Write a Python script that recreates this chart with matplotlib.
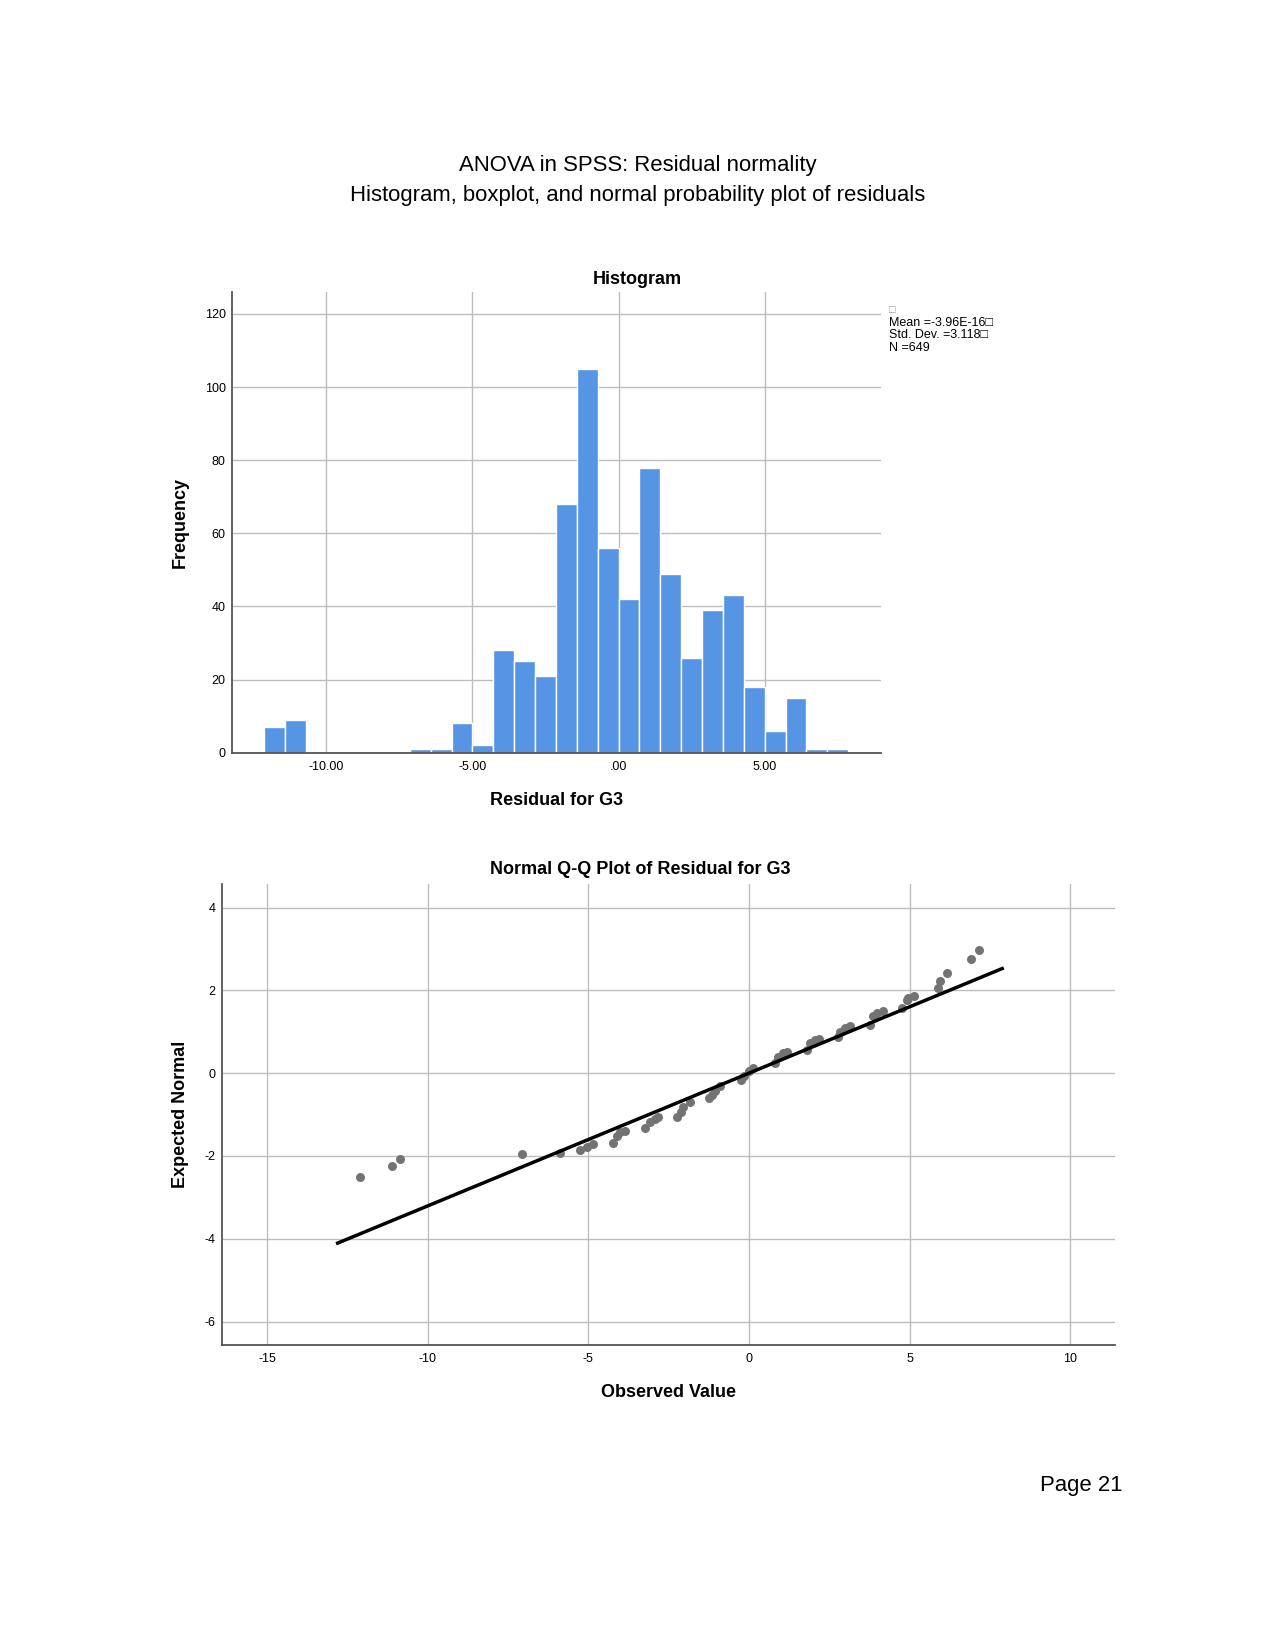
import numpy as np
import matplotlib
matplotlib.use("Agg")
import matplotlib.pyplot as plt

plt.rcParams['font.family'] = ['Liberation Sans', 'DejaVu Sans']
plt.rcParams['axes.unicode_minus'] = False

# ---------------- data ----------------
# Histogram: bin index k (left edge = k * 5/7), counts
bin_index = np.arange(-17, 11)
bin_width = 5.0 / 7.0
hist_counts = [7, 9, 0, 0, 0, 0, 0, 1, 1, 8, 2, 28, 25, 21, 68, 105, 56,
               42, 78, 49, 26, 39, 43, 18, 6, 15, 1, 1]
hist_xticks = [-10, -5, 0, 5]
hist_xticklabels = ["-10.00", "-5.00", ".00", "5.00"]
hist_yticks = [0, 20, 40, 60, 80, 100, 120]
stat_lines = ["Mean =-3.96E-16\u25a1", "Std. Dev. =3.118\u25a1", "N =649"]
std_dev = 3.118

# Q-Q plot points (observed value, expected normal)
qq_obs = [-12.11, -11.10, -10.85, -7.07, -5.88,
          -5.26, -5.05, -4.84,
          -4.22, -4.12, -4.01, -3.86,
          -3.24, -3.08, -2.93, -2.82,
          -2.25, -2.12, -2.04, -1.84,
          -1.24, -1.14, -1.06, -0.90,
          -0.25, -0.14, 0.01, 0.13,
          0.81, 0.91, 1.07, 1.17,
          1.80, 1.90, 2.05, 2.18,
          2.78, 2.83, 2.99, 3.14,
          3.77, 3.87, 3.99, 4.16,
          4.75, 4.91, 4.96, 5.15,
          5.89, 5.94, 6.15,
          6.90, 7.16]
qq_exp = [-2.50, -2.25, -2.07, -1.96, -1.92,
          -1.86, -1.78, -1.72,
          -1.69, -1.53, -1.43, -1.39,
          -1.33, -1.19, -1.11, -1.07,
          -1.05, -0.93, -0.82, -0.69,
          -0.60, -0.52, -0.44, -0.32,
          -0.16, -0.06, 0.06, 0.13,
          0.24, 0.40, 0.48, 0.50,
          0.56, 0.72, 0.80, 0.82,
          0.88, 1.00, 1.09, 1.13,
          1.17, 1.37, 1.45, 1.49,
          1.57, 1.77, 1.81, 1.87,
          2.05, 2.23, 2.42,
          2.75, 2.98]
qq_line_x = [-12.85, 7.93]
qq_xticks = [-15, -10, -5, 0, 5, 10]
qq_yticks = [-6, -4, -2, 0, 2, 4]

# ---------------- figure ----------------
fig = plt.figure(figsize=(12.75, 16.5), dpi=100)
W, H = 1275.0, 1650.0

grid_c = '#bdbdbd'
spine_c = '#555555'
tick_fs = 9
lab_fs = 13
page_fs = 15.9

fig.text(0.5, 1 - 165 / H, "ANOVA in SPSS: Residual normality",
         ha='center', va='center', fontsize=page_fs)
fig.text(0.5, 1 - 195.5 / H,
         "Histogram, boxplot, and normal probability plot of residuals",
         ha='center', va='center', fontsize=page_fs)
fig.text(1122 / W, 1 - 1486 / H, "Page 21", ha='right', va='center',
         fontsize=page_fs)


def style_axes(ax):
    for s in ['top', 'right']:
        ax.spines[s].set_visible(False)
    for s in ['left', 'bottom']:
        ax.spines[s].set_color(spine_c)
        ax.spines[s].set_linewidth(1.3)
        ax.spines[s].set_zorder(5)
    ax.tick_params(axis='both', length=0, labelsize=tick_fs, colors='black')
    ax.tick_params(axis='y', pad=4.5)
    ax.tick_params(axis='x', pad=6)
    ax.grid(True, color=grid_c, linewidth=1.0)
    ax.set_axisbelow(True)


# ---- Histogram ----
ax1 = fig.add_axes([232 / W, 1 - 752.7 / H, (881 - 232) / W, (752.7 - 292) / H])
lefts = bin_index * bin_width
ax1.bar(lefts, hist_counts, width=bin_width, align='edge',
        color='#5694e4', edgecolor='white', linewidth=1.0, zorder=3)
ax1.set_xlim(-13.23, 8.98)
ax1.set_ylim(0, 126)
ax1.set_xticks(hist_xticks)
ax1.set_xticklabels(hist_xticklabels)
ax1.set_yticks(hist_yticks)
style_axes(ax1)
fig.text(0.5, 1 - 279.5 / H, "Histogram", ha='center', va='center',
         fontsize=lab_fs, fontweight='bold')
ax1.text(0.5, -0.1027, "Residual for G3", transform=ax1.transAxes,
         ha='center', va='center', fontsize=lab_fs, fontweight='bold')
ax1.text(-0.080, 0.5, "Frequency", transform=ax1.transAxes, rotation=90,
         ha='center', va='center', fontsize=lab_fs, fontweight='bold')

# stats box text
fig.text(889.3 / W, 1 - 310 / H, "\u25a1", ha='left', va='center',
         fontsize=8, color='#9a9a9a')
ys = [322.7, 335.0, 348.3]
for txt, yy in zip(stat_lines, ys):
    fig.text(889.3 / W, 1 - yy / H, txt, ha='left', va='center',
             fontsize=9)

# ---- Q-Q plot ----
ax2 = fig.add_axes([222 / W, 1 - 1344.7 / H, (1115 - 222) / W, (1344.7 - 884) / H])
ax2.scatter(qq_obs, qq_exp, s=42, color='#737373', zorder=3, linewidths=0)
line_x = np.array(qq_line_x)
ax2.plot(line_x, line_x / std_dev, color='black', linewidth=2.5, zorder=4,
         solid_capstyle='butt')
ax2.set_xlim(-16.40, 11.39)
ax2.set_ylim(-6.56, 4.57)
ax2.set_xticks(qq_xticks)
ax2.set_yticks(qq_yticks)
style_axes(ax2)
fig.text(0.502, 1 - 870 / H, "Normal Q-Q Plot of Residual for G3",
         ha='center', va='center', fontsize=lab_fs, fontweight='bold')
ax2.text(0.5, -0.1027, "Observed Value", transform=ax2.transAxes,
         ha='center', va='center', fontsize=lab_fs, fontweight='bold')
ax2.text(-0.047, 0.5, "Expected Normal", transform=ax2.transAxes,
         rotation=90, ha='center', va='center', fontsize=lab_fs,
         fontweight='bold')

fig.savefig("out.png", dpi=100)
